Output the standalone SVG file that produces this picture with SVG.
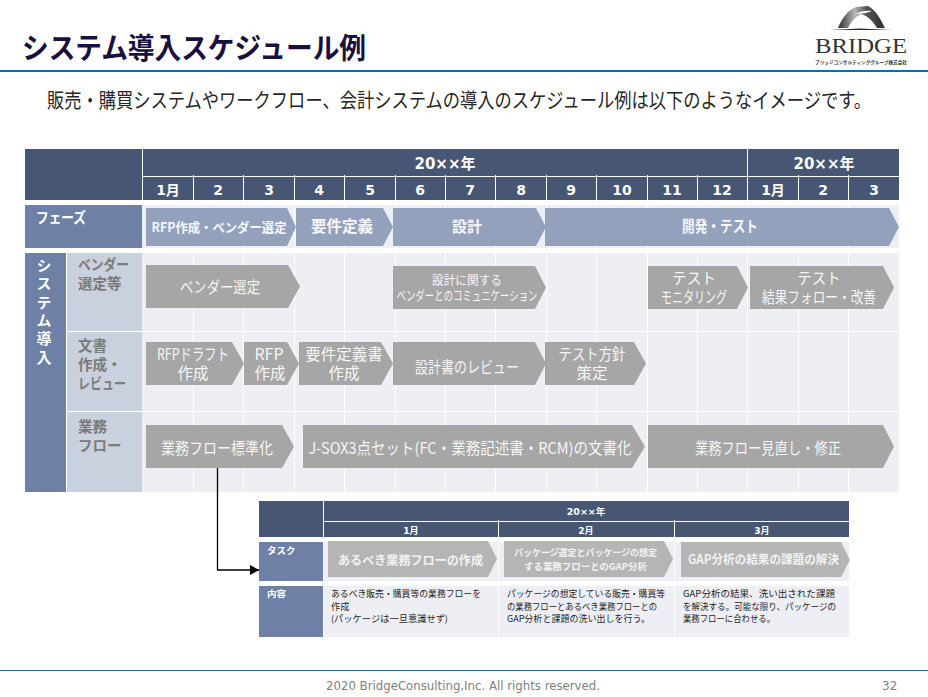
<svg xmlns="http://www.w3.org/2000/svg" width="928" height="697" viewBox="0 0 928 697">
<style>
text{font-family:"Noto Sans CJK JP","Noto Sans",sans-serif}
.w{fill:#fff;font-weight:700;text-anchor:middle}
.n{font-family:"DejaVu Sans","Noto Sans CJK JP",sans-serif}
.ph{fill:#8998B7;opacity:.9}
.g{fill:#A6A6A6}
.t{fill:#B5B5B5}
.hd{fill:#475773}
.lb{fill:#6E80A6}
.sb{fill:#C9D1DF}
.bg{fill:#EDEFF5}
.gl{stroke:#fff;stroke-width:1;fill:none}
.pt{fill:#F5F6FA;font-weight:700;text-anchor:middle}
.gt{fill:#F5F5F5;text-anchor:middle}
.st{fill:#7A7A7A;font-weight:700}
.tt{fill:#F2F2F2;font-weight:700;text-anchor:middle}
.bd{fill:#1E1E1E;font-size:9.200px}
.conn{fill:none;stroke:#000;stroke-width:1.3}
</style>
<defs>
<marker id="ah" markerUnits="userSpaceOnUse" markerWidth="10" markerHeight="10" refX="9" refY="5" orient="auto"><path d="M0 0L9 5L0 10Z" fill="#000"/></marker>
<linearGradient id="lg" x1="0" y1="0" x2="1" y2="0"><stop offset="0" stop-color="#2A2A2A"/><stop offset=".35" stop-color="#B5B5B5"/><stop offset=".6" stop-color="#555"/><stop offset="1" stop-color="#2A2A2A"/></linearGradient>
</defs>
<rect width="928" height="697" fill="#fff"/>

<g id="header">
<text x="22" y="59" font-size="29" font-weight="700" fill="#1A1040" textLength="344" lengthAdjust="spacingAndGlyphs">システム導入スケジュール例</text>
<rect x="0" y="70" width="928" height="2" fill="#0070C0"/>
<text transform="translate(47 108) scale(.83 1)" font-size="20.800" fill="#262626">販売・購買システムやワークフロー、会計システムの導入のスケジュール例は以下のようなイメージです。</text>
</g>

<g id="logo">
<path d="M829 30L860 28.500L892 30Z" fill="#333"/>
<path d="M838 28C842 18 848 10 856 7L868 6C876 10 881 20 885 28L877 28C873 21 868 16 861 14C855 17 851 22 848 28Z" fill="url(#lg)"/>
<path d="M854 15C860 11 866 10 872 11L866 13C862 13 858 14 854 15Z" fill="#fff"/>
<text x="815" y="53" font-size="21" fill="#333" style="font-family:'Liberation Serif',serif" textLength="92" lengthAdjust="spacingAndGlyphs">BRIDGE</text>
<text x="815" y="64" font-size="4.500" font-weight="700" fill="#333" textLength="92" lengthAdjust="spacingAndGlyphs">ブリッジコンサルティンググループ株式会社</text>
</g>

<g id="main-background">
<rect class="bg" x="142" y="205" width="757" height="43"/>
<rect class="bg" x="142" y="253" width="757" height="239"/>
<path class="gl" d="M193.500 205V248M243.500 205V248M294.500 205V248M344.500 205V248M395.500 205V248M445.500 205V248M495.500 205V248M546.500 205V248M596.500 205V248M647.500 205V248M697.500 205V248M747.500 205V248M798.500 205V248M848.500 205V248"/>
<path class="gl" d="M193.500 253V492M243.500 253V492M294.500 253V492M344.500 253V492M395.500 253V492M445.500 253V492M495.500 253V492M546.500 253V492M596.500 253V492M647.500 253V492M697.500 253V492M747.500 253V492M798.500 253V492M848.500 253V492"/>
<path class="gl" d="M66 331.500H899M66 411.500H899"/>
</g>

<g id="main-header">
<rect class="hd" x="25" y="149" width="874" height="51"/>
<path class="gl" d="M142.500 149V200M142 176.500H899M747.500 149V200M193.500 175V200M243.500 175V200M294.500 175V200M344.500 175V200M395.500 175V200M445.500 175V200M495.500 175V200M546.500 175V200M596.500 175V200M647.500 175V200M697.500 175V200M798.500 175V200M848.500 175V200"/>
<g font-size="15"><text class="w n" x="445" y="169">20××年</text><text class="w n" x="824" y="169">20××年</text></g>
<g font-size="14">
<text class="w n" x="168" y="195">1月</text><text class="w n" x="218" y="195">2</text><text class="w n" x="269" y="195">3</text><text class="w n" x="319" y="195">4</text><text class="w n" x="370" y="195">5</text><text class="w n" x="420" y="195">6</text><text class="w n" x="470" y="195">7</text><text class="w n" x="521" y="195">8</text><text class="w n" x="571" y="195">9</text><text class="w n" x="622" y="195">10</text><text class="w n" x="672" y="195">11</text><text class="w n" x="722" y="195">12</text><text class="w n" x="773" y="195">1月</text><text class="w n" x="823" y="195">2</text><text class="w n" x="874" y="195">3</text>
</g>
</g>

<g id="phase-label"><rect class="lb" x="25" y="205" width="117" height="43"/><text x="36" y="223" font-size="14.500" font-weight="700" fill="#fff" textLength="50" lengthAdjust="spacingAndGlyphs">フェーズ</text></g>
<g id="phase-rfp"><path class="ph" d="M146 208H287L296 227L287 246H146Z"/><text class="pt" x="219" y="232" font-size="13" textLength="135" lengthAdjust="spacingAndGlyphs">RFP作成・ベンダー選定</text></g>
<g id="phase-req"><path class="ph" d="M296 208H383L393 227L383 246H296Z"/><text class="pt" x="342" y="232" font-size="15.500">要件定義</text></g>
<g id="phase-design"><path class="ph" d="M393 208H536L546 227L536 246H393Z"/><text class="pt" x="467" y="232" font-size="15">設計</text></g>
<g id="phase-dev"><path class="ph" d="M545 208H889L899 227L889 246H545Z"/><text class="pt" x="720" y="232" font-size="15.500" textLength="76" lengthAdjust="spacingAndGlyphs">開発・テスト</text></g>

<g id="system-label"><rect class="lb" x="25" y="253" width="41" height="239"/>
<text x="44" y="258" font-size="15" font-weight="700" fill="#fff" style="writing-mode:vertical-rl;letter-spacing:3.300px">システム導入</text></g>

<g id="row-vendor-label"><rect class="sb" x="67" y="253" width="75" height="78"/><text class="st" x="78" y="270" font-size="14.500" textLength="51" lengthAdjust="spacingAndGlyphs">ベンダー</text><text class="st" x="78" y="289" font-size="14.500">選定等</text></g>
<g id="row-doc-label"><rect class="sb" x="67" y="332" width="75" height="79"/><text class="st" x="78" y="351" font-size="14.500">文書</text><text class="st" x="78" y="370" font-size="14.500">作成・</text><text class="st" x="78" y="389" font-size="14.500" textLength="48" lengthAdjust="spacingAndGlyphs">レビュー</text></g>
<g id="row-flow-label"><rect class="sb" x="67" y="412" width="75" height="80"/><text class="st" x="78" y="432" font-size="14.500">業務</text><text class="st" x="78" y="451" font-size="14.500">フロー</text></g>

<g id="a-vendor"><path class="g" d="M146 265H288L300 286.500L288 308H146Z"/><text class="gt" x="220" y="293" font-size="16" textLength="80" lengthAdjust="spacingAndGlyphs">ベンダー選定</text></g>
<g id="a-design-comm"><path class="g" d="M393 266H535L546 287.500L535 309H393Z"/><text class="gt" x="467" y="285" font-size="12.500" textLength="70" lengthAdjust="spacingAndGlyphs">設計に関する</text><text class="gt" x="467" y="300" font-size="13" textLength="141" lengthAdjust="spacingAndGlyphs">ベンダーとのコミュニケーション</text></g>
<g id="a-monitor"><path class="g" d="M648 266H737L748 287.500L737 309H648Z"/><text class="gt" x="694" y="284" font-size="15.500" textLength="44" lengthAdjust="spacingAndGlyphs">テスト</text><text class="gt" x="694" y="303" font-size="15.500" textLength="66" lengthAdjust="spacingAndGlyphs">モニタリング</text></g>
<g id="a-followup"><path class="g" d="M750 266H883L894 287.500L883 309H750Z"/><text class="gt" x="819" y="284" font-size="15.500" textLength="44" lengthAdjust="spacingAndGlyphs">テスト</text><text class="gt" x="819" y="303" font-size="15.500" textLength="114" lengthAdjust="spacingAndGlyphs">結果フォロー・改善</text></g>

<g id="a-rfp-draft"><path class="g" d="M146 342H232L244 363.500L232 385H146Z"/><text class="gt" x="193" y="360" font-size="16" textLength="72" lengthAdjust="spacingAndGlyphs">RFPドラフト</text><text class="gt" x="193" y="379" font-size="15.500">作成</text></g>
<g id="a-rfp"><path class="g" d="M244 342H287L299 363.500L287 385H244Z"/><text class="gt" x="269" y="360" font-size="15.500" textLength="29" lengthAdjust="spacingAndGlyphs">RFP</text><text class="gt" x="270" y="379" font-size="15.500">作成</text></g>
<g id="a-req-doc"><path class="g" d="M299 342H381L393 363.500L381 385H299Z"/><text class="gt" x="344" y="360" font-size="15.500">要件定義書</text><text class="gt" x="344" y="379" font-size="15.500">作成</text></g>
<g id="a-review"><path class="g" d="M393 342H535L546 363.500L535 385H393Z"/><text class="gt" x="467" y="373" font-size="16" textLength="104" lengthAdjust="spacingAndGlyphs">設計書のレビュー</text></g>
<g id="a-test-policy"><path class="g" d="M545 342H634L646 363.500L634 385H545Z"/><text class="gt" x="592" y="360" font-size="15.500" textLength="67" lengthAdjust="spacingAndGlyphs">テスト方針</text><text class="gt" x="592" y="379" font-size="15.500">策定</text></g>

<g id="a-standard"><path class="g" d="M146 425H282L294 446.500L282 468H146Z"/><text class="gt" x="217" y="454" font-size="16" textLength="112" lengthAdjust="spacingAndGlyphs">業務フロー標準化</text></g>
<g id="a-jsox"><path class="g" d="M303 425H632L645 446.500L632 468H303Z"/><text class="gt" x="470" y="454" font-size="16" textLength="323" lengthAdjust="spacingAndGlyphs">J-SOX3点セット(FC・業務記述書・RCM)の文書化</text></g>
<g id="a-review-fix"><path class="g" d="M648 425H883L894 446.500L883 468H648Z"/><text class="gt" x="768" y="454" font-size="16" textLength="146" lengthAdjust="spacingAndGlyphs">業務フロー見直し・修正</text></g>

<g id="connectors"><path class="conn" d="M217.500 468V570H259" marker-end="url(#ah)"/></g>

<g id="detail-header">
<rect class="hd" x="259" y="501" width="590" height="36"/>
<path class="gl" d="M323.500 501V537M323 521.500H849M498.500 520V537M674.500 520V537"/>
<text class="w n" x="586" y="515" font-size="9.500">20××年</text>
<text class="w n" x="411" y="534" font-size="9">1月</text><text class="w n" x="586" y="534" font-size="9">2月</text><text class="w n" x="762" y="534" font-size="9">3月</text>
</g>
<g id="detail-background">
<rect class="bg" x="324" y="542" width="525" height="39"/>
<rect class="bg" x="324" y="586" width="525" height="51"/>
<path class="gl" d="M498.500 542V581M674.500 542V581M498.500 586V637M674.500 586V637"/>
</g>
<g id="task-label"><rect class="lb" x="259" y="542" width="64" height="39"/><text x="267" y="554" font-size="9.500" font-weight="700" fill="#fff">タスク</text></g>
<g id="content-label"><rect class="lb" x="259" y="586" width="64" height="51"/><text x="267" y="597" font-size="9.500" font-weight="700" fill="#fff">内容</text></g>
<g id="task-1"><path class="t" d="M328 541H488L497 559L488 577H328Z"/><text class="tt" x="410.500" y="565" font-size="12.500" textLength="145" lengthAdjust="spacingAndGlyphs">あるべき業務フローの作成</text></g>
<g id="task-2"><path class="t" d="M504 541H664L673 559L664 577H504Z"/><text class="tt" x="585.500" y="556" font-size="9.500" textLength="143" lengthAdjust="spacingAndGlyphs">パッケージ選定とパッケージの想定</text><text class="tt" x="585.500" y="570" font-size="9.500" textLength="123" lengthAdjust="spacingAndGlyphs">する業務フローとのGAP分析</text></g>
<g id="task-3"><path class="t" d="M681 542H841L850 560L841 577H681Z"/><text class="tt" x="763.500" y="564" font-size="12.500" textLength="151" lengthAdjust="spacingAndGlyphs">GAP分析の結果の課題の解決</text></g>
<g id="content-1"><text class="bd" x="331" y="597" textLength="150" lengthAdjust="spacingAndGlyphs">あるべき販売・購買等の業務フローを</text><text class="bd" x="331" y="610">作成</text><text class="bd" x="331" y="622" textLength="117" lengthAdjust="spacingAndGlyphs">(パッケージは一旦意識せず)</text></g>
<g id="content-2"><text class="bd" x="507" y="597" textLength="158" lengthAdjust="spacingAndGlyphs">パッケージの想定している販売・購買等</text><text class="bd" x="507" y="610" textLength="150" lengthAdjust="spacingAndGlyphs">の業務フローとあるべき業務フローとの</text><text class="bd" x="507" y="622" textLength="143" lengthAdjust="spacingAndGlyphs">GAP分析と課題の洗い出しを行う。</text></g>
<g id="content-3"><text class="bd" x="683" y="597" textLength="152" lengthAdjust="spacingAndGlyphs">GAP分析の結果、洗い出された課題</text><text class="bd" x="683" y="610" textLength="153" lengthAdjust="spacingAndGlyphs">を解決する。可能な限り、パッケージの</text><text class="bd" x="683" y="622" textLength="92" lengthAdjust="spacingAndGlyphs">業務フローに合わせる。</text></g>

<g id="footer">
<rect x="0" y="670" width="928" height="1" fill="#1F6DA8"/>
<text x="326" y="690" font-size="12" fill="#7F7F7F" style="font-family:'DejaVu Sans',sans-serif" textLength="274" lengthAdjust="spacingAndGlyphs">2020 BridgeConsulting,Inc. All rights reserved.</text>
<text x="882" y="690" font-size="12" fill="#7F7F7F" style="font-family:'DejaVu Sans',sans-serif">32</text>
</g>
</svg>
